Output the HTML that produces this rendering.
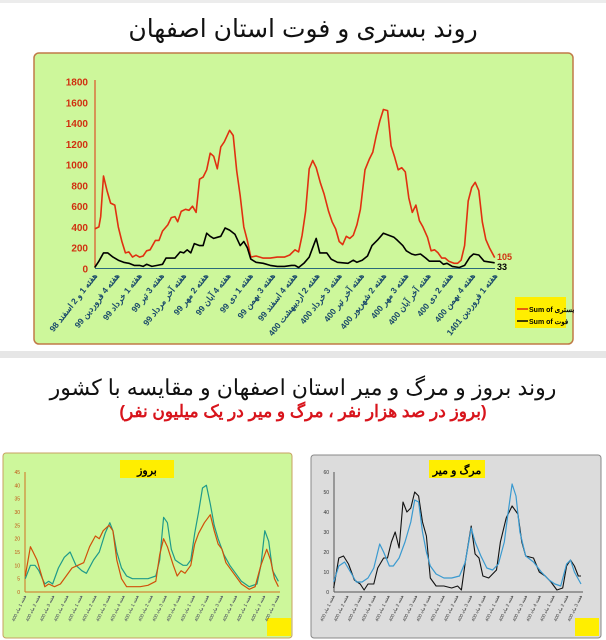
<!DOCTYPE html>
<html><head><meta charset="utf-8">
<style>
body{margin:0;width:606px;height:640px;background:#fff;overflow:hidden;font-family:"Liberation Sans","Noto Sans CJK SC",sans-serif;position:relative}
.t{position:absolute;left:0;width:606px;text-align:center;direction:rtl}
</style></head><body>
<div style="position:absolute;left:0;top:0;width:606px;height:3px;background:#ececec"></div>
<div class="t" style="top:14px;font-size:25px;color:#111">روند بستری و فوت استان اصفهان</div>
<div style="position:absolute;left:0;top:351px;width:606px;height:7px;background:#e6e6e6"></div>
<div class="t" style="top:375px;font-size:22px;color:#111">روند بروز و مرگ و میر استان اصفهان و مقایسه با کشور</div>
<div class="t" style="top:402px;font-size:17px;font-weight:bold;color:#d8141c">(بروز در صد هزار نفر ، مرگ و میر در یک میلیون نفر)</div>
<svg id="s" width="606" height="640" style="position:absolute;left:0;top:0" font-family="Liberation Sans, Noto Sans CJK SC, sans-serif">
<rect x="34" y="53" width="539" height="291" rx="5" fill="#cdf79b" stroke="#c07a48" stroke-width="1.5"/>
<rect x="3" y="453" width="289" height="185" rx="3" fill="#cdf79b" stroke="#c8a060" stroke-width="1"/>
<rect x="311" y="455" width="290" height="183" rx="3" fill="#dcdcdc" stroke="#888" stroke-width="1"/>
<rect x="120" y="460" width="54" height="18" fill="#ffee00"/>
<text x="147" y="474" font-size="11" font-weight="bold" text-anchor="middle" direction="rtl">بروز</text>
<rect x="429" y="460" width="56" height="18" fill="#ffee00"/>
<text x="457" y="474" font-size="11" font-weight="bold" text-anchor="middle" direction="rtl">مرگ و میر</text>
<rect x="515" y="297" width="51" height="31" fill="#ffee00"/>
<line x1="517" y1="309" x2="528" y2="309" stroke="#e03010" stroke-width="1.5"/>
<text x="529" y="312" font-size="7" font-weight="bold">Sum of بستری</text>
<line x1="517" y1="321" x2="528" y2="321" stroke="#000" stroke-width="1.5"/>
<text x="529" y="324" font-size="7" font-weight="bold">Sum of فوت</text>
<rect x="267" y="618" width="24" height="18" fill="#ffee00"/>
<rect x="575" y="618" width="24" height="18" fill="#ffee00"/>
<g id="g"></g>
</svg>
<script>
var g=document.getElementById('g'),h='';
function path(pts,fx,fy,col,w){var d='';pts.forEach(function(p,i){d+=(i?'L':'M')+fx(p[0]).toFixed(1)+','+fy(p[1]).toFixed(1)});h+='<path d="'+d+'" fill="none" stroke="'+col+'" stroke-width="'+w+'" stroke-linejoin="round"/>';}
function P(a){var r=[];for(var i=0;i<a.length;i+=2)r.push([a[i],a[i+1]]);return r;}
var tx=function(z){return 30+z/2.83},ty=function(v){return 268.5-v*(187/1800)};
h+='<line x1="95" y1="80" x2="95" y2="268" stroke="#e03010" stroke-width="1"/>';
h+='<line x1="95" y1="268.5" x2="495" y2="268.5" stroke="#2a6a7a" stroke-width="1"/>';
for(var v=0;v<=1800;v+=200)h+='<text x="88" y="'+(ty(v)+4)+'" font-size="10" font-weight="bold" fill="#d03010" text-anchor="end">'+v+'</text>';
var red=P([183,380,195,400,200,500,208,890,218,750,228,630,240,610,250,400,260,260,270,150,280,160,290,110,300,130,310,110,320,120,330,170,340,180,355,270,365,270,375,360,390,420,400,490,410,500,418,450,428,550,440,570,450,560,460,600,470,540,480,860,490,880,500,950,510,1110,520,1080,530,960,540,1170,550,1220,565,1330,575,1280,585,940,595,700,605,400,615,270,625,110,640,120,660,100,680,100,700,110,720,110,735,130,750,180,760,160,770,320,780,550,790,960,800,1040,810,970,822,820,832,720,845,550,855,450,865,380,875,260,885,230,895,310,905,290,915,320,925,420,935,570,948,950,960,1050,970,1120,980,1280,990,1420,1000,1530,1012,1520,1022,1180,1032,1070,1042,950,1052,970,1062,930,1072,680,1082,540,1092,610,1102,460,1112,400,1125,300,1135,170,1145,180,1155,150,1165,100,1175,100,1185,70,1200,50,1210,50,1220,80,1230,220,1240,650,1250,780,1260,830,1270,750,1280,450,1290,280,1300,200,1315,105]);
var blk=P([183,10,195,70,208,150,220,150,235,110,250,80,265,60,280,50,295,30,310,30,320,20,330,40,345,20,360,30,375,40,385,100,410,100,425,160,435,150,445,180,455,150,465,240,480,220,490,220,500,340,510,310,520,290,530,300,540,310,552,390,565,370,580,330,595,220,605,260,615,200,625,90,640,60,660,50,680,30,700,20,720,20,740,30,750,30,760,10,775,50,790,110,800,200,810,290,820,150,840,150,852,90,870,60,900,50,915,80,925,60,940,80,955,120,968,220,985,280,1000,340,1015,320,1030,300,1040,270,1055,220,1065,170,1080,140,1090,130,1105,140,1120,100,1130,70,1160,70,1170,40,1180,50,1195,20,1215,10,1230,30,1245,110,1255,140,1270,130,1285,70,1315,55]);
path(red,tx,ty,'#e03010',1.6);path(blk,tx,ty,'#000',1.6);
h+='<text x="497" y="260" font-size="9" font-weight="bold" fill="#d03010">105</text><text x="497" y="270" font-size="9" font-weight="bold">33</text>';
var labs=["هفته 1 و 2 اسفند 98","هفته 4 فروردین 99","هفته 1 خرداد 99","هفته 3 تیر 99","هفته آخر مرداد 99","هفته 2 مهر 99","هفته 4 آبان 99","هفته 1 دی 99","هفته 3 بهمن 99","هفته 4 اسفند 99","هفته 2 اردیبهشت 400","هفته 3 خرداد 400","هفته آخر تیر 400","هفته 2 شهریور 400","هفته 3 مهر 400","هفته آخر آبان 400","هفته 2 دی 400","هفته 4 بهمن 400","هفته 1 فروردین 1401"];
labs.forEach(function(l,i){var x=tx(183+i*62.9)+3;h+='<text transform="translate('+x+',276) rotate(-52)" font-size="8.5" font-weight="bold" fill="#1a4a6a" text-anchor="start" direction="rtl">'+l+'</text>';});
var lx=function(z){return z/2.568},ly=function(v){return 592-v*(120/45)};
h+='<line x1="25" y1="472" x2="25" y2="592" stroke="#d07020"/><line x1="25" y1="592" x2="280" y2="592" stroke="#d07020"/>';
for(v=0;v<=45;v+=5)h+='<text x="20" y="'+(ly(v)+2)+'" font-size="5" fill="#c05010" text-anchor="end">'+v+'</text>';
var teal=P([65,5,78,10,90,10,100,8,115,3,125,4,135,3,150,9,165,13,180,15,195,10,210,8,222,7,240,12,255,15,270,22,282,26,290,23,300,15,312,9,325,6,340,5,360,5,380,5,400,6,410,12,420,28,430,26,440,16,450,12,460,11,470,10,480,10,490,12,500,22,510,30,520,39,530,40,540,33,550,25,560,20,575,14,590,10,605,7,620,4,640,2,660,3,670,10,680,23,690,19,700,8,715,4]);
var org=P([65,6,78,17,85,15,95,12,105,7,115,2,125,3,140,2,155,3,170,6,185,9,200,10,215,11,230,17,245,21,255,20,265,23,280,25,290,23,300,12,312,5,325,2,340,2,360,2,380,2.5,400,4,410,14,420,20,430,17,445,10,455,6,465,8,475,7,490,10,500,18,510,22,525,26,540,29,550,23,560,18,570,16,580,11,600,7,620,3,640,1,655,2,670,10,685,16,695,12,705,5,715,2]);
path(teal,lx,ly,'#1f9a8a',1.2);path(org,lx,ly,'#d0500a',1.2);
for(var i=0;i<19;i++){var x=lx(65+i*36.1)+1;h+='<text transform="translate('+x+',596) rotate(-65)" font-size="4.5" fill="#335" text-anchor="start" direction="rtl">هفته '+(i%4+1)+' ماه 400</text>';}
var rx=function(z){return z/2.568},ry=function(v){return 592-v*2};
h+='<line x1="334" y1="472" x2="334" y2="592" stroke="#555"/><line x1="334" y1="592" x2="583" y2="592" stroke="#555"/>';
for(v=0;v<=60;v+=10)h+='<text x="329" y="'+(ry(v)+2)+'" font-size="5" fill="#333" text-anchor="end">'+v+'</text>';
var b2=P([857,2,870,17,882,18,895,14,910,6,925,4,935,1,945,4,960,4,970,12,985,17,995,17,1005,25,1015,30,1025,22,1035,45,1045,40,1055,42,1065,50,1075,48,1085,35,1095,28,1105,7,1120,3,1140,3,1160,2,1175,3,1185,1,1195,15,1210,33,1220,19,1230,17,1240,8,1255,7,1265,9,1275,11,1285,25,1300,37,1315,43,1330,39,1340,25,1350,18,1370,17,1385,10,1400,8,1415,5,1430,1,1445,2,1455,13,1465,16,1475,13,1485,8,1492,8]);
var bl=P([857,5,870,13,885,15,900,10,915,5,930,5,945,7,960,12,975,24,985,20,1000,13,1010,13,1025,17,1040,25,1055,35,1065,46,1075,45,1085,30,1095,20,1105,13,1120,9,1140,7,1160,7,1180,8,1195,15,1210,32,1220,25,1235,18,1250,12,1265,11,1280,14,1295,25,1305,40,1315,54,1325,48,1335,30,1350,18,1370,15,1390,10,1410,6,1425,4,1440,3,1455,14,1465,16,1475,10,1492,4]);
path(b2,rx,ry,'#111',1.1);path(bl,rx,ry,'#3a9ad0',1.2);
for(i=0;i<19;i++){var x=rx(857+i*35.3)+1;h+='<text transform="translate('+x+',596) rotate(-65)" font-size="4.5" fill="#333" text-anchor="start" direction="rtl">هفته '+(i%4+1)+' ماه 400</text>';}
g.innerHTML=h;
</script>
</body></html>
